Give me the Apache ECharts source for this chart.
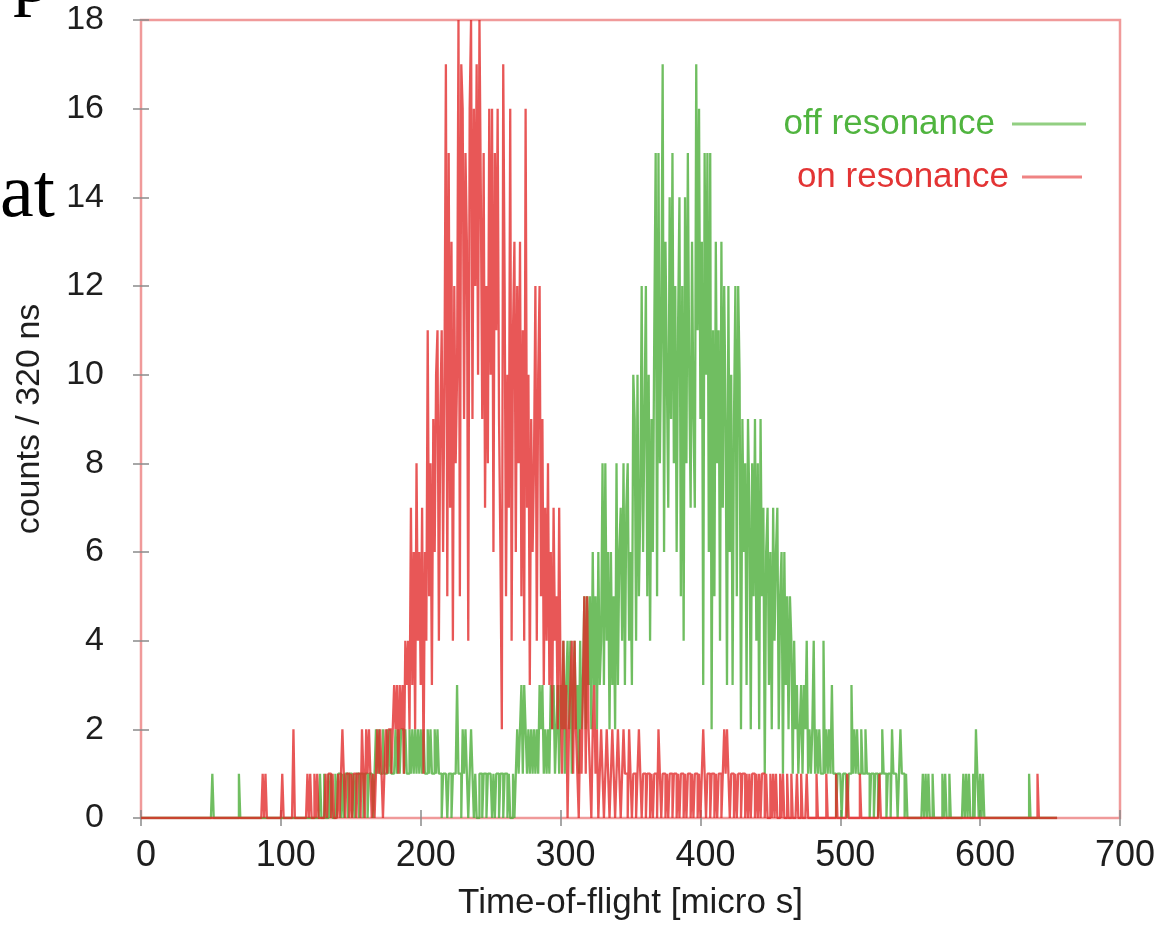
<!DOCTYPE html>
<html>
<head>
<meta charset="utf-8">
<script src="https://cdn.jsdelivr.net/npm/echarts@6/dist/echarts.min.js"></script>
<style>
html,body{margin:0;padding:0;background:#fff;}
#chart{width:1154px;height:929px;}
</style>
</head>
<body>
<div id="chart"></div>
<script>
// Histogram bins: 1 micro-second per bin, starting at 0 micro s
const binStartUs = 0;
const binWidthUs = 1;

const seriesNames = ['off resonance', 'on resonance'];

// off resonance counts per bin (index = bin)
const offResonance = [
0,0,0,0,0,0,0,0,0,0,0,0,0,0,0,0,0,0,0,0,
0,0,0,0,0,0,0,0,0,0,0,0,0,0,0,0,0,0,0,0,
0,0,0,0,0,0,0,0,0,0,0,1,0,0,0,0,0,0,0,0,
0,0,0,0,0,0,0,0,0,0,1,0,0,0,0,0,0,0,0,0,
0,0,0,0,0,0,0,0,0,0,0,0,0,0,0,0,0,0,0,0,
0,0,0,0,0,0,0,0,0,0,0,0,0,0,0,0,0,0,0,0,
0,0,0,0,0,0,0,0,1,0,0,1,0,0,1,0,1,0,0,1,
0,1,1,0,1,0,1,1,0,1,1,0,1,0,1,1,0,1,1,0,
1,1,0,1,1,1,0,1,2,1,2,1,1,2,1,1,2,1,2,1,
1,1,2,1,2,1,2,2,1,2,1,1,2,1,2,1,2,1,2,1,
2,1,2,1,1,2,1,2,1,1,2,1,2,1,1,0,1,1,1,0,
1,1,0,1,1,1,3,1,1,0,2,1,2,1,0,1,2,1,0,1,
0,0,1,1,0,1,1,0,1,1,1,0,1,0,1,1,0,1,1,0,
1,1,0,1,0,0,1,0,1,2,1,2,3,1,3,2,1,2,1,2,
1,2,1,2,1,3,2,3,1,2,1,2,1,3,2,3,1,2,3,1,
3,2,4,1,3,4,2,4,1,3,4,2,3,1,4,2,3,5,2,5,
3,5,2,6,3,5,2,6,3,4,8,3,8,4,6,2,6,3,5,2,
8,3,6,7,4,8,3,7,8,4,6,3,10,9,4,10,5,7,12,6,
9,12,5,10,4,9,6,11,15,5,15,8,11,17,6,13,10,7,14,9,
15,8,12,6,11,14,5,12,4,14,8,15,10,7,13,9,7,17,11,16,
9,13,3,15,10,15,6,15,2,11,5,13,8,11,4,13,7,12,9,3,
12,6,10,3,9,12,5,12,10,2,9,6,8,3,9,7,2,8,5,9,
4,8,2,9,5,7,1,6,7,3,6,2,7,4,6,7,2,5,6,1,
6,3,5,2,5,4,1,4,2,3,1,2,3,1,3,2,4,1,2,1,
2,4,1,2,1,2,1,1,4,1,2,1,2,1,3,1,1,0,1,1,
1,0,1,1,1,0,1,1,3,1,2,1,2,1,1,2,1,1,2,1,
1,0,1,1,0,1,1,0,1,1,2,1,1,0,1,1,0,2,1,1,
1,0,1,2,1,1,0,1,0,0,0,0,0,0,0,0,0,0,0,1,
0,1,0,1,0,0,1,0,0,0,0,0,0,1,0,1,0,0,1,0,
0,0,0,0,0,0,0,0,1,0,1,0,1,0,0,1,0,2,1,0,
1,0,1,0,0,0,0,0,0,0,0,0,0,0,0,0,0,0,0,0,
0,0,0,0,0,0,0,0,0,0,0,0,0,0,0,1,0,0,0,0,
0,0,0,0,0,0,0,0,0,0,0,0,0,0,0,0
];

// on resonance counts per bin (index = bin)
const onResonance = [
0,0,0,0,0,0,0,0,0,0,0,0,0,0,0,0,0,0,0,0,
0,0,0,0,0,0,0,0,0,0,0,0,0,0,0,0,0,0,0,0,
0,0,0,0,0,0,0,0,0,0,0,0,0,0,0,0,0,0,0,0,
0,0,0,0,0,0,0,0,0,0,0,0,0,0,0,0,0,0,0,0,
0,0,0,0,0,0,0,1,0,1,0,0,0,0,0,0,0,0,0,0,
0,1,0,0,0,0,0,0,0,2,0,0,0,0,0,0,0,0,0,1,
0,1,0,0,1,0,1,0,0,0,0,0,1,0,1,1,0,1,0,0,
0,1,0,1,2,1,0,1,1,0,1,0,1,1,0,1,1,0,2,1,
0,2,1,2,1,0,1,0,1,2,1,2,1,0,1,2,1,2,2,1,
2,3,2,3,1,3,2,3,1,4,3,4,2,7,3,6,2,8,4,6,
3,7,1,6,4,11,5,8,3,9,6,10,11,4,9,11,6,10,17,5,
15,7,13,4,12,8,10,18,5,17,16,9,15,13,4,16,18,9,16,12,
17,10,18,14,9,15,7,12,8,16,10,16,6,15,11,16,9,6,2,17,
12,5,10,7,16,4,11,13,6,12,8,13,5,11,4,16,7,10,3,9,
6,8,12,4,10,12,5,9,3,7,4,8,3,6,2,7,4,5,2,7,
3,1,4,2,3,0,2,3,4,1,4,2,1,0,2,1,3,5,1,5,
2,1,0,2,3,1,2,0,1,2,1,0,1,2,1,0,1,2,1,0,
1,2,1,0,1,2,1,1,0,2,1,0,1,1,0,1,2,1,0,1,
1,0,1,1,0,1,0,1,1,0,2,1,0,1,1,0,1,0,1,1,
0,1,1,0,1,0,1,1,0,1,0,1,1,0,1,0,1,1,0,1,
0,1,2,1,0,1,1,0,1,1,0,1,0,1,1,0,1,2,1,2,
1,0,1,1,0,1,0,1,1,0,1,1,0,1,0,1,0,1,1,0,
1,0,1,0,1,1,0,1,0,0,1,0,1,0,1,0,0,1,0,1,
0,0,1,0,0,1,0,0,0,1,0,0,1,0,0,0,1,0,0,0,
0,0,0,1,0,0,0,0,0,0,1,0,0,0,0,0,0,1,0,0,
0,0,0,0,0,1,0,0,0,0,0,0,0,0,1,0,0,0,0,0,
0,0,0,0,0,0,0,0,1,0,0,0,0,0,0,0,0,0,0,0,
0,0,0,0,0,0,0,0,0,0,0,0,0,0,0,0,0,0,0,0,
0,0,0,0,0,0,0,0,0,0,0,0,0,0,0,0,0,0,0,0,
0,0,0,0,0,0,0,0,0,0,0,0,0,0,0,0,0,0,0,0,
0,0,0,0,0,0,0,0,0,0,0,0,0,0,0,0,0,0,0,0,
0,0,0,0,0,0,0,0,0,0,0,0,0,0,0,0,0,0,0,0,
0,1,0,0,0,0,0,0,0,0,0,0,0,0,0,0
];

// Axis ranges / tick steps
const xRange = [0, 700];
const xStep = 100;
const yRange = [0, 18];
const yStep = 2;
const xTitle = 'Time-of-flight [micro s]';
const yTitle = 'counts / 320 ns';

function toPoints(arr) {
  return arr.map((v, i) => [binStartUs + i * binWidthUs, v]);
}

const SANS = '"Liberation Sans", Arial, "DejaVu Sans", sans-serif';
const GREEN = '#50b43f';
const RED = '#e33434';

const chart = echarts.init(document.getElementById('chart'), null, {renderer: 'canvas'});

const tickStyle = {show: true, inside: true, length: 8, lineStyle: {color: '#8a8a8a', width: 1.5}};

chart.setOption({
  animation: false,
  backgroundColor: '#ffffff',
  grid: {
    left: 141, right: 34, top: 20, bottom: 111,
    containLabel: false, outerBoundsMode: 'none',
    show: true, borderColor: '#f09a9a', borderWidth: 2.5, backgroundColor: 'transparent'
  },
  legend: [
    {
      data: [{name: seriesNames[0], itemStyle: {color: '#92cf82'}, textStyle: {color: GREEN}}],
      right: 68, top: 106, padding: 0, align: 'right', icon: 'rect',
      itemWidth: 74, itemHeight: 3,
      textStyle: {fontFamily: SANS, fontSize: 35, padding: [0, 12, 0, 0], lineHeight: 36},
      selectedMode: false
    },
    {
      data: [{name: seriesNames[1], itemStyle: {color: '#ef8383'}, textStyle: {color: RED}}],
      right: 72, top: 159, padding: 0, align: 'right', icon: 'rect',
      itemWidth: 60, itemHeight: 3,
      textStyle: {fontFamily: SANS, fontSize: 35, padding: [0, 8, 0, 0], lineHeight: 36},
      selectedMode: false
    }
  ],
  xAxis: [
    {
      type: 'value', min: xRange[0], max: xRange[1], interval: xStep,
      axisLine: {show: false}, splitLine: {show: false},
      axisTick: tickStyle,
      axisLabel: {fontFamily: SANS, fontSize: 36, color: '#1e1e1e', margin: 20, padding: [0, 0, 0, 10]},
      name: xTitle, nameLocation: 'middle', nameGap: 68,
      nameTextStyle: {fontFamily: SANS, fontSize: 35, color: '#1e1e1e'}
    },
    {
      type: 'value', position: 'top', min: xRange[0], max: xRange[1], interval: xStep,
      axisLine: {show: false}, splitLine: {show: false},
      axisTick: tickStyle, axisLabel: {show: false}
    }
  ],
  yAxis: [
    {
      type: 'value', min: yRange[0], max: yRange[1], interval: yStep,
      axisLine: {show: false}, splitLine: {show: false},
      axisTick: tickStyle,
      axisLabel: {fontFamily: SANS, fontSize: 34, color: '#1e1e1e', margin: 37},
      name: yTitle, nameLocation: 'middle', nameGap: 94, nameRotate: 90,
      nameTextStyle: {fontFamily: SANS, fontSize: 34, color: '#1e1e1e'}
    },
    {
      type: 'value', position: 'right', min: yRange[0], max: yRange[1], interval: yStep,
      axisLine: {show: false}, splitLine: {show: false},
      axisTick: tickStyle, axisLabel: {show: false}
    }
  ],
  series: [
    {
      name: seriesNames[0], type: 'line', step: 'end', symbol: 'none', showSymbol: false,
      xAxisIndex: 0, yAxisIndex: 0, clip: true, z: 2,
      color: '#92cf82',
      lineStyle: {color: 'rgba(72,172,52,0.78)', width: 2.3},
      data: toPoints(offResonance)
    },
    {
      name: seriesNames[1], type: 'line', step: 'end', symbol: 'none', showSymbol: false,
      xAxisIndex: 0, yAxisIndex: 0, clip: true, z: 3,
      color: '#ef8383',
      lineStyle: {color: 'rgba(226,40,40,0.78)', width: 2.3},
      data: toPoints(onResonance)
    }
  ],
  graphic: [
    {type: 'text', left: 13, top: -57, silent: true,
     style: {text: 'p', font: '76px "Liberation Serif", "Times New Roman", serif', fill: '#000'}},
    {type: 'text', left: 0, top: 158, silent: true,
     style: {text: 'at', font: '76px "Liberation Serif", "Times New Roman", serif', fill: '#000'}}
  ]
});
</script>
</body>
</html>
